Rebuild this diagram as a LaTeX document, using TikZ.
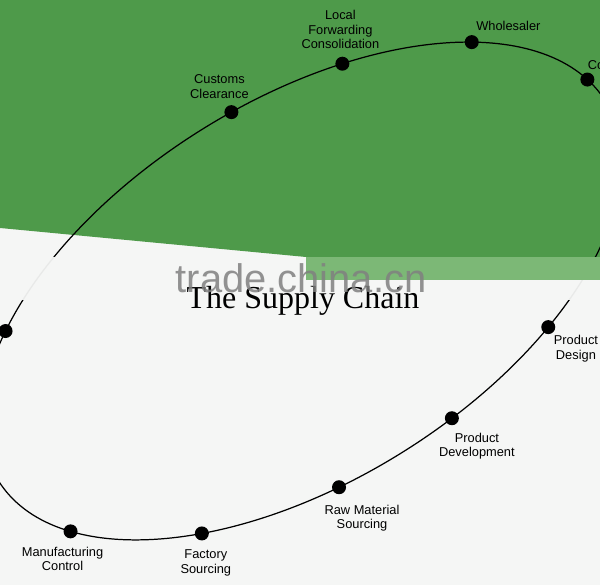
\documentclass[tikz,border=0pt]{standalone}
\usepackage{fontspec}
\setmainfont{Liberation Serif}
\setsansfont{Liberation Sans}
\usetikzlibrary{positioning}
\definecolor{chaingreen}{RGB}{78,154,74}
\definecolor{bandgreen}{RGB}{124,184,118}
\definecolor{paper}{RGB}{245,246,245}
\definecolor{markgray}{RGB}{128,128,128}

\begin{document}
\begin{tikzpicture}[
        stopdot/.style={circle, fill=black, inner sep=0pt, minimum size=0.28cm},
        stagetext/.style={font=\sffamily\fontsize{7.3}{8.3}\selectfont, align=center, inner sep=0pt},
        cycleline/.style={draw=black, line width=0.7pt}
    ]
        \useasboundingbox (0,0) rectangle (12,-11.7);
        \clip (0,0) rectangle (12,-11.7);
        \fill[paper] (0,0) rectangle (12,-11.7);
        \fill[chaingreen] (0,0) -- (12,0) -- (12,-5.14) -- (6.12,-5.14) -- (0,-4.56) -- cycle;

        \begin{scope}[shift={(6.04,-5.82)}, rotate=32]
            \draw[cycleline] (0,0) ellipse (7.16 and 3.80);
            \node[stopdot] (customs) at (84.4:7.16 and 3.80) {};
            \node[stopdot] (forwarding) at (64.4:7.16 and 3.80) {};
            \node[stopdot] (wholesaler) at (39.6:7.16 and 3.80) {};
            \node[stopdot] (consumer) at (8.5:7.16 and 3.80) {};
            \node[stopdot] (design) at (-58.0:7.16 and 3.80) {};
            \node[stopdot] (development) at (-80.4:7.16 and 3.80) {};
            \node[stopdot] (material) at (-101.7:7.16 and 3.80) {};
            \node[stopdot] (factory) at (-126.6:7.16 and 3.80) {};
            \node[stopdot] (manufacturing) at (-154.7:7.16 and 3.80) {};
            \node[stopdot] (shipping) at (139.6:7.16 and 3.80) {};
        \end{scope}

        \fill[paper, opacity=0.95] (0,-5.14) rectangle (12,-6.0);
        \fill[bandgreen] (6.12,-5.14) rectangle (12,-5.6);

        \node[font=\fontsize{18.2}{21}\selectfont, anchor=base] (title) at (6.06,-6.17) {The Supply Chain};
        \node[font=\sffamily\fontsize{22.7}{26}\selectfont, text=markgray, opacity=0.85, anchor=base] (watermark) at (6.02,-5.86) {trade.china.cn};

        \node[stagetext, above=0.12cm of customs, xshift=-0.24cm] (customslbl) {Customs\\Clearance};
        \node[stagetext, above=0.14cm of forwarding, xshift=-0.04cm] (forwardinglbl) {Local\\Forwarding\\Consolidation};
        \node[stagetext, above right=0.12cm and -0.02cm of wholesaler] (wholesalerlbl) {Wholesaler};
        \node[stagetext, above right=0.08cm and -0.1cm of consumer] (consumerlbl) {Consumer};
        \node[stagetext, below right=0.06cm and 0cm of design] (designlbl) {Product\\Design};
        \node[stagetext, below=0.14cm of development, xshift=0.5cm] (developmentlbl) {Product\\Development};
        \node[stagetext, below=0.2cm of material, xshift=0.46cm] (materiallbl) {Raw Material\\Sourcing};
        \node[stagetext, below=0.18cm of factory, xshift=0.08cm] (factorylbl) {Factory\\Sourcing};
        \node[stagetext, below=0.16cm of manufacturing, xshift=-0.16cm] (manufacturinglbl) {Manufacturing\\Control};
    \end{tikzpicture}
\end{document}
